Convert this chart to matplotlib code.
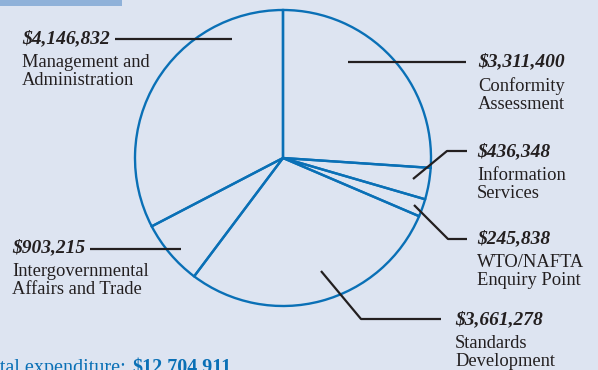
import matplotlib
matplotlib.use("Agg")
from matplotlib import pyplot as plt

# clockwise from the top of the pie
names = ["Conformity\nAssessment", "Information\nServices", "WTO/NAFTA\nEnquiry Point",
         "Standards\nDevelopment", "Intergovernmental\nAffairs and Trade",
         "Management and\nAdministration"]
amounts = [3311400, 436348, 245838, 3661278, 903215, 4146832]
total = 12704911

# label layout in pixels (x, y from top), and leader line vertices
label_pos = [(478, 62), (477, 152), (477, 239), (455, 320), (12, 248), (22, 39)]
leaders = [
    [(348, 62), (466, 62)],
    [(413, 179), (447, 151), (467, 151)],
    [(414, 205), (448, 239), (467, 239)],
    [(321, 271), (361, 319), (441, 319)],
    [(90, 249), (181, 249)],
    [(115, 39), (232, 39)],
]

W, H = 598, 370
bg = "#dde4f1"
blue = "#0a70b6"
ink = "#231f20"
serif = "Liberation Serif"

fig = plt.figure(figsize=(W / 100, H / 100), dpi=100)
fig.patch.set_facecolor(bg)
ax = fig.add_axes([0, 0, 1, 1])
ax.set_facecolor(bg)

ax.pie(amounts, startangle=90, counterclock=False, center=(283, H - 158), radius=148,
       wedgeprops=dict(fill=False, edgecolor=blue, linewidth=1.7))
ax.set_xlim(0, W)
ax.set_ylim(0, H)
ax.set_aspect("auto")
ax.axis("off")

# strip in the top left corner
ax.add_patch(plt.Rectangle((0, H - 6), 122, 6, color="#8fb1d9", lw=0))

for pts in leaders:
    xs = [p[0] for p in pts]
    ys = [H - p[1] for p in pts]
    ax.plot(xs, ys, color=ink, lw=1.6, solid_capstyle="butt")

for (x, y), a, n in zip(label_pos, amounts, names):
    ax.text(x, H - y, f"${a:,}", family=serif, fontsize=14, fontweight="bold",
            style="italic", color=ink, va="center", ha="left")
    ax.text(x, H - y - 15, n, family=serif, fontsize=13.3, color=ink,
            va="top", ha="left", linespacing=1.05)

ax.text(131, -3, "Total expenditure: ", family=serif, fontsize=14.5, color=blue,
        ha="right", va="baseline")
ax.text(132, -3, f"${total:,}", family=serif, fontsize=14.5, color=blue,
        fontweight="bold", ha="left", va="baseline")

fig.savefig("out.png", dpi=100, facecolor=bg)
